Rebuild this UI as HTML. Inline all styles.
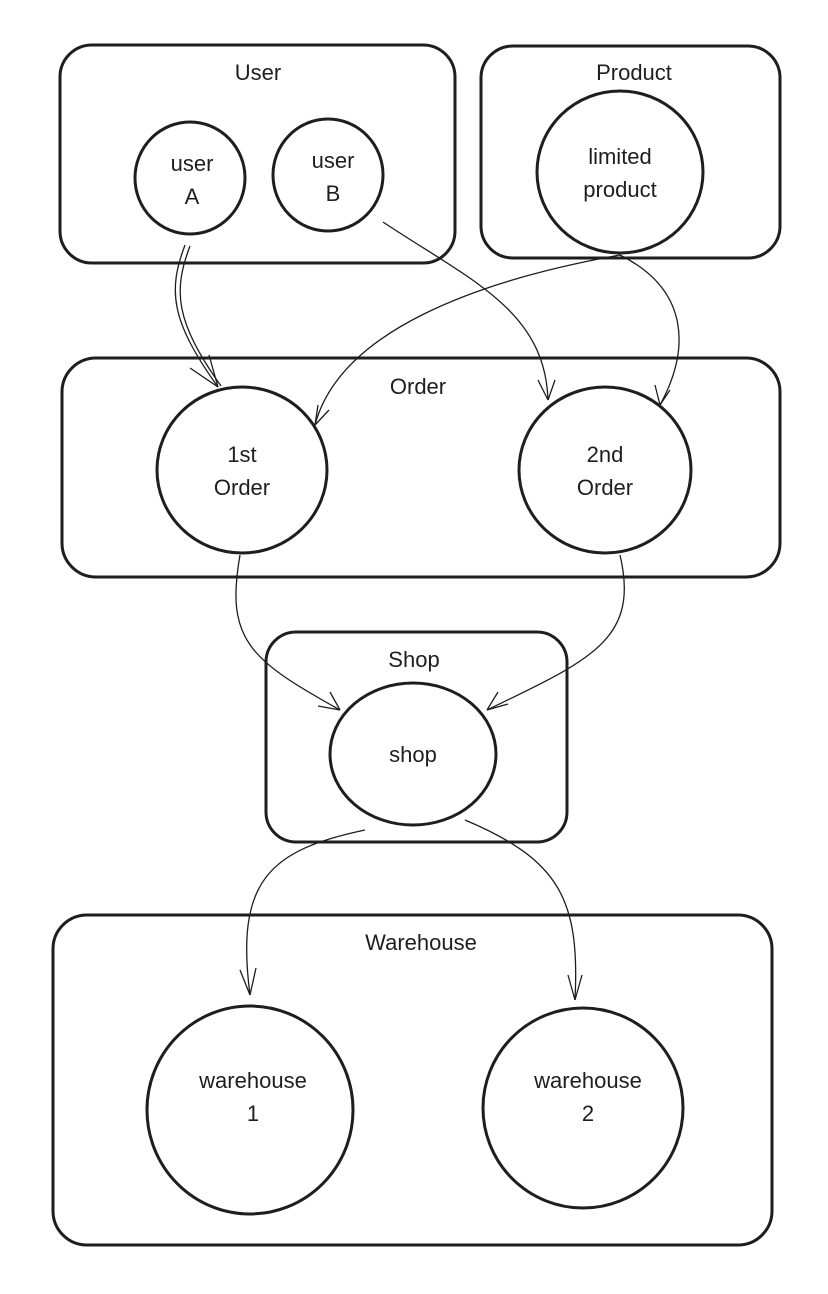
<!DOCTYPE html>
<html><head><style>
html,body{margin:0;padding:0;background:#fff;}
svg{display:block}
text{font-family:"Liberation Sans",sans-serif;font-size:22px;fill:#1e1e1e;text-anchor:middle}
</style></head><body>
<svg width="828" height="1294" viewBox="0 0 828 1294" xmlns="http://www.w3.org/2000/svg">
<g fill="none" stroke="#1e1e1e" stroke-width="3">
<rect x="60" y="45" width="395" height="218" rx="32"/>
<rect x="481" y="46" width="299" height="212" rx="32"/>
<rect x="62" y="358" width="718" height="219" rx="34"/>
<rect x="266" y="632" width="301" height="210" rx="30"/>
<rect x="53" y="915" width="719" height="330" rx="34"/>
<ellipse cx="190" cy="178" rx="55" ry="56"/>
<ellipse cx="328" cy="175" rx="55" ry="56"/>
<ellipse cx="620" cy="172" rx="83" ry="81"/>
<ellipse cx="242" cy="470" rx="85" ry="83"/>
<ellipse cx="605" cy="470" rx="86" ry="83"/>
<ellipse cx="413" cy="754" rx="83" ry="71"/>
<ellipse cx="250" cy="1110" rx="103" ry="104"/>
<ellipse cx="583" cy="1108" rx="100" ry="100"/>
</g>
<g fill="none" stroke="#1e1e1e" stroke-width="1.3">
<path d="M185 245 C168 290 170 320 218 387"/><path d="M190 246 C173 291 175 321 221 386"/>
<path d="M218 387 L190 368 M218 387 L209 355"/>
<path d="M383 222 C470 280 545 310 548 400"/><path d="M548 400 L538 380 M548 400 L555 380"/>
<path d="M620 255 C480 280 340 330 315 425"/><path d="M315 425 L318 405 M315 425 L329 410"/>
<path d="M620 255 C690 290 690 350 660 405"/><path d="M660 405 L655 385 M660 405 L670 390"/>
<path d="M240 555 C225 640 250 660 340 710"/><path d="M340 710 L318 706 M340 710 L330 692"/>
<path d="M620 555 C640 640 590 660 487 710"/><path d="M487 710 L498 692 M487 710 L508 704"/>
<path d="M365 830 C270 850 235 880 250 995"/><path d="M250 995 L240 970 M250 995 L256 968"/>
<path d="M465 820 C560 860 580 900 575 1000"/><path d="M575 1000 L568 975 M575 1000 L582 975"/>
</g>
<text x="258" y="80">User</text>
<text x="634" y="80">Product</text>
<text x="418" y="394">Order</text>
<text x="414" y="667">Shop</text>
<text x="421" y="950">Warehouse</text>
<text x="192" y="171">user</text><text x="192" y="204">A</text>
<text x="333" y="168">user</text><text x="333" y="201">B</text>
<text x="620" y="164">limited</text><text x="620" y="197">product</text>
<text x="242" y="462">1st</text><text x="242" y="495">Order</text>
<text x="605" y="462">2nd</text><text x="605" y="495">Order</text>
<text x="413" y="762">shop</text>
<text x="253" y="1088">warehouse</text><text x="253" y="1121">1</text>
<text x="588" y="1088">warehouse</text><text x="588" y="1121">2</text>
</svg>
</body></html>
